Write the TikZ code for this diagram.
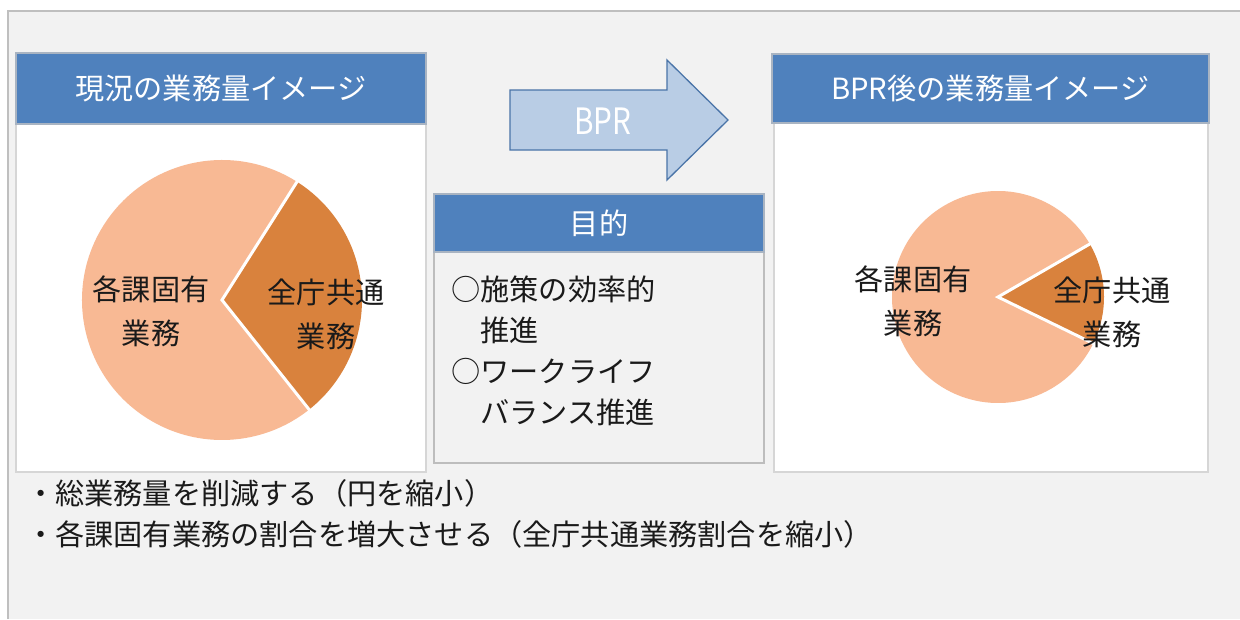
\documentclass[tikz,border=0pt]{standalone}
\usepackage{fontspec}
\setmainfont{Noto Sans CJK JP}
\usetikzlibrary{positioning}
\definecolor{hdrblue}{HTML}{4F81BD}
\definecolor{hdredge}{HTML}{A9B4C2}
\definecolor{bgray}{HTML}{F2F2F2}
\definecolor{frameline}{HTML}{BFBFBF}
\definecolor{bodyedge}{HTML}{D6D6D6}
\definecolor{boxedge}{HTML}{BDBDBD}
\definecolor{arrfill}{HTML}{B9CDE5}
\definecolor{arredge}{HTML}{4A74A8}
\definecolor{pielight}{HTML}{F8B994}
\definecolor{piedark}{HTML}{D9823D}
\definecolor{txt}{HTML}{1A1A1A}
\tikzset{
  cjk/.style={font=\fontsize{29.2}{41}\selectfont, text=txt, inner sep=0pt},
  hdr/.style={draw=hdredge, line width=1.2pt, fill=hdrblue, text=white, font=\fontsize{29.2}{34}\selectfont, inner sep=0pt},
  panelbody/.style={draw=bodyedge, line width=1.5pt, fill=white, inner sep=0pt},
  purposebody/.style={draw=boxedge, line width=1.2pt, fill=bgray, inner sep=0pt},
  pielabel/.style={cjk, align=center, font=\fontsize{29.2}{44}\selectfont},
  sep/.style={white, line width=3pt},
}
\begin{document}
\begin{tikzpicture}[x=1pt,y=-1pt]
\useasboundingbox (0,0) rectangle (1240,619);
\fill[white] (0,0) rectangle (1240,619);
\fill[bgray] (8,11) rectangle (1240,619);
\draw[frameline, line width=2pt] (8,619) -- (8,11) -- (1240,11);

% left panel
\node[panelbody, minimum width=410, minimum height=348] (b1) at (221,298) {};
\node[hdr, minimum width=410, minimum height=71] (h1) at (221,88.5) {現況の業務量イメージ};

% left pie
\begin{scope}[shift={(222,300)}, yscale=-1]
  \fill[pielight] (0,0) -- (57.6:140) arc[start angle=57.6, end angle=308.5, radius=140] -- cycle;
  \fill[piedark] (0,0) -- (-51.5:140) arc[start angle=-51.5, end angle=57.6, radius=140] -- cycle;
  \coordinate (lc) at (0,0);
  \coordinate (la) at (57.6:141);
  \coordinate (lb) at (-51.5:141);
\end{scope}
\draw[sep] (la) -- (lc) -- (lb);
\node[pielabel] (l1) at (151,311) {各課固有\\業務};
\node[pielabel] (l2) at (326,314) {全庁共通\\業務};

% arrow
\draw[arredge, line width=1.3pt, fill=arrfill, line join=miter]
  (510,90) -- (667,90) -- (667,60) -- (728,120) -- (667,180) -- (667,150) -- (510,150) -- cycle;
\node[text=white, font=\fontsize{33}{36}\selectfont, inner sep=0pt, xscale=0.9, yscale=1.1] (bpr) at (603,121) {BPR};

% purpose box
\node[purposebody, minimum width=330, minimum height=211] (pb) at (599,357.5) {};
\node[hdr, minimum width=330, minimum height=58] (ph) at (599,223) {目的};
\node[cjk, anchor=west] (p1) at (451,289) {○施策の効率的};
\node[cjk, anchor=west] (p2) at (451,330) {　推進};
\node[cjk, anchor=west] (p3) at (451,371) {○ワークライフ};
\node[cjk, anchor=west] (p4) at (451,412) {　バランス推進};

% right panel
\node[panelbody, minimum width=434, minimum height=349] (b2) at (991,297.5) {};
\node[hdr, minimum width=437, minimum height=69] (h2) at (990.5,88.5) {BPR後の業務量イメージ};

% right pie
\begin{scope}[shift={(998,297)}, yscale=-1]
  \fill[pielight] (0,0) -- (30:106) arc[start angle=30, end angle=334, radius=106] -- cycle;
  \fill[piedark] (0,0) -- (-26:106) arc[start angle=-26, end angle=30, radius=106] -- cycle;
  \coordinate (rc) at (0,0);
  \coordinate (ra) at (30:107);
  \coordinate (rb) at (-26:107);
\end{scope}
\draw[sep] (ra) -- (rc) -- (rb);
\node[pielabel] (r1) at (913,301) {各課固有\\業務};
\node[pielabel] (r2) at (1112,312) {全庁共通\\業務};

% bottom text
\node[cjk, anchor=west] (t1) at (26,493) {・総業務量を削減する（円を縮小）};
\node[cjk, anchor=west] (t2) at (26,534) {・各課固有業務の割合を増大させる（全庁共通業務割合を縮小）};
\end{tikzpicture}
\end{document}
